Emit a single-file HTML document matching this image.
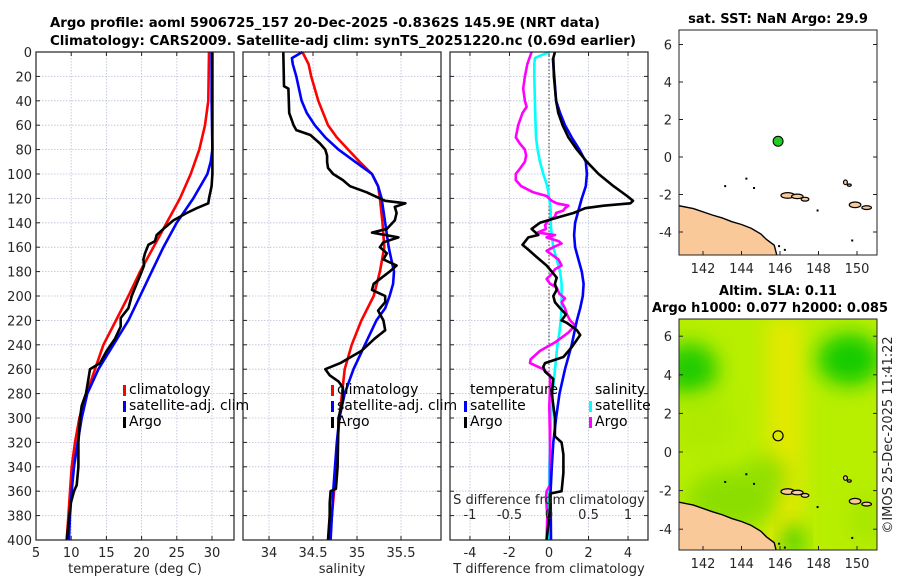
<!DOCTYPE html>
<html><head><meta charset="utf-8"><style>
body{margin:0;background:#fff;}
svg{display:block;font-family:"DejaVu Sans","Liberation Sans",sans-serif;}
.tk{font-size:13px;fill:#262626;}
.ttl{font-size:13px;font-weight:bold;fill:#000;}
.lg{font-size:14px;fill:#000;}
</style></head><body>
<svg id="c" width="900" height="580" viewBox="0 0 900 580">
<defs>
<filter id="bl" x="-50%" y="-50%" width="200%" height="200%"><feGaussianBlur stdDeviation="10"/></filter>
<clipPath id="m2c"><rect x="679" y="319" width="198" height="231"/></clipPath>
<clipPath id="m1c"><rect x="679" y="30" width="198" height="225"/></clipPath>
</defs>
<text class="ttl" x="50" y="27" textLength="550" lengthAdjust="spacingAndGlyphs">Argo profile: aoml 5906725_157 20-Dec-2025 -0.8362S 145.9E (NRT data)</text>
<text class="ttl" x="50" y="45" textLength="586" lengthAdjust="spacingAndGlyphs">Climatology: CARS2009. Satellite-adj clim: synTS_20251220.nc (0.69d earlier)</text>
<g id="plots"></g>
</svg>
<script>
const tClimDepth=[0,40,60,80,100,120,140,160,180,200,220,240,260,280,300,320,340,360,380,400];
const tClimVal=[29.58,29.48,29.0,28.2,26.97,25.46,23.56,21.67,19.78,18.12,16.37,14.57,13.38,12.2,11.16,10.54,10.07,9.83,9.6,9.36];
const tSatDepth=[0,40,80,90,100,120,140,160,180,200,220,240,260,280,300,320,340,360,380,400];
const tSatVal=[29.95,29.95,30.05,29.81,29.34,27.35,24.98,23.09,21.43,19.78,18.12,15.99,13.86,12.29,11.49,10.92,10.4,10.07,9.83,9.69];
const tArgoDepth=[0,100,110,120,124,128,132,138,145,150,155,158,165,170,175,180,190,200,210,218,225,235,245,255,260,268,280,290,300,320,340,355,360,370,400];
const tArgoVal=[30.05,30.05,29.95,29.58,29.48,27.82,26.4,24.51,23.09,22.14,21.9,20.96,20.48,20.25,20.34,20.01,19.3,18.59,18.12,17.03,17.03,16.22,15.04,14.09,12.67,12.44,12.1,11.49,11.25,11.02,11.02,10.78,10.4,9.93,9.36];
const sClimDepth=[0,10,20,40,60,70,80,90,100,110,120,140,160,180,200,220,240,260,280,300,320,340,360,400];
const sClimVal=[34.38,34.45,34.48,34.56,34.67,34.77,34.9,35.03,35.17,35.24,35.26,35.29,35.31,35.26,35.19,35.05,34.94,34.86,34.83,34.8,34.78,34.76,34.74,34.69];
const sSatDepth=[0,5,10,20,40,50,60,70,80,90,100,110,120,140,160,170,180,190,200,210,220,240,260,280,300,320,340,360,400];
const sSatVal=[34.38,34.26,34.27,34.31,34.37,34.43,34.52,34.64,34.79,34.98,35.17,35.24,35.28,35.32,35.36,35.39,35.42,35.41,35.37,35.32,35.22,35.09,34.96,34.86,34.8,34.77,34.75,34.73,34.7];
const sArgoDepth=[0,28,30,50,60,64,68,75,80,85,90,95,100,105,110,115,120,122,124,127,132,138,145,148,152,156,160,165,170,175,180,190,195,200,205,212,220,228,235,245,255,260,265,270,275,285,300,340,358,360,370,380,400];
const sArgoVal=[34.163,34.17,34.22,34.23,34.28,34.31,34.47,34.58,34.64,34.66,34.66,34.67,34.73,34.84,34.92,35.11,35.26,35.32,35.55,35.43,35.45,35.43,35.34,35.17,35.47,35.3,35.26,35.34,35.3,35.45,35.37,35.19,35.17,35.32,35.32,35.24,35.3,35.32,35.2,35.05,34.81,34.64,34.69,34.79,34.84,34.84,34.79,34.78,34.76,34.7,34.69,34.69,34.67];
const dtSatDepth=[5,20,40,50,60,70,80,90,100,110,120,130,140,150,160,170,180,190,200,210,220,240,260,280,300,320,340,360,400];
const dtSatVal=[0.19,0.27,0.36,0.56,0.81,1.15,1.54,1.86,1.92,1.86,1.66,1.49,1.32,1.27,1.32,1.49,1.66,1.75,1.71,1.58,1.41,1.15,0.81,0.53,0.36,0.22,0.14,0.08,0.1];
const dtArgoDepth=[0,5,20,40,50,60,70,80,90,100,110,118,122,124,126,128,132,135,140,145,150,152,158,162,168,175,180,185,190,195,200,205,210,215,218,220,222,228,232,238,242,250,255,258,262,268,280,300,315,320,330,345,360,362,375,400];
const dtArgoVal=[0.3,0.22,0.25,0.36,0.47,0.69,0.98,1.41,1.92,2.51,3.27,3.95,4.25,4.12,2.76,1.83,1.24,0.56,-0.46,-0.88,-0.54,-1.05,-1.34,-1.05,-0.63,-0.12,0.14,0.39,0.3,0.39,0.22,0.3,0.56,0.86,0.73,0.64,0.9,1.41,1.58,1.32,1.15,0.73,-0.2,-0.29,-0.2,0.22,0.14,0.3,0.3,0.64,0.73,0.73,0.64,0.05,0.05,-0.12];
const dsSatDepth=[0,3,5,10,20,40,60,70,80,90,100,110,120,130,140,150,160,170,180,190,200,210,220,230,240,260,280,300,320,340,360,400];
const dsSatVal=[0.013,-0.114,-0.178,-0.186,-0.186,-0.178,-0.17,-0.165,-0.144,-0.114,-0.072,-0.021,0.004,0.021,0.021,0.034,0.055,0.097,0.14,0.16,0.16,0.16,0.148,0.131,0.106,0.076,0.047,0.025,0.013,0.004,0,0];
const dsArgoDepth=[0,10,20,30,40,45,50,60,70,75,80,85,90,95,100,105,110,115,118,122,124,126,128,130,132,135,138,142,145,148,150,152,155,157,160,163,167,170,175,178,182,186,190,193,198,202,205,210,215,220,224,230,238,245,252,255,260,265,275,290,320,340,355,360,365,380,400];
const dsArgoVal=[-0.22,-0.275,-0.305,-0.326,-0.305,-0.284,-0.335,-0.39,-0.42,-0.37,-0.305,-0.29,-0.305,-0.36,-0.42,-0.42,-0.35,-0.2,-0.03,0.034,0.097,0.246,0.203,0.18,0.089,0.076,-0.008,-0.05,-0.038,-0.144,0.076,-0.03,0.119,0.16,0.055,-0.03,0.055,0.119,0.16,0.076,0.034,-0.03,0.013,0.097,0.13,0.203,0.16,0.203,0.225,0.267,0.33,0.246,0.076,-0.114,-0.233,-0.24,-0.072,0.013,0.013,0.004,0.013,0.013,0.013,-0.03,-0.038,-0.021,-0.03];
const depthTicks=[0,20,40,60,80,100,120,140,160,180,200,220,240,260,280,300,320,340,360,380,400];
const tTicks=[5,10,15,20,25,30];
const sTicks=[34,34.5,35,35.5];
const dtTicks=[-4,-2,0,2,4];
const dsTickLabels=['-1','-0.5','0','0.5','1'];
const dsTicks=[-1,-0.5,0,0.5,1];
const lonTicks=[142,144,146,148,150];
const lat1Ticks=[6,4,2,0,-2,-4];
const argoLon=[145.9], argoLat=[0.84];

const NS='http://www.w3.org/2000/svg';
const root=document.getElementById('plots');
function mk(tag,attrs,parent){const e=document.createElementNS(NS,tag);for(const k in attrs)e.setAttribute(k,attrs[k]);(parent||root).appendChild(e);return e;}
const Y0=52,Y1=540;
const yD=d=>Y0+d/400*(Y1-Y0);
function panel(name,x0,x1,vmin,vmax,ticks,labels,xlabel,showY){
  const g=mk('g',{});
  
  
  const xs=v=>x0+(v-vmin)/(vmax-vmin)*(x1-x0);
  depthTicks.forEach(d=>{if(d>0&&d<400){mk('line',{x1:x0,x2:x1,y1:yD(d),y2:yD(d),stroke:'#b8bfd8','stroke-width':0.8,'stroke-dasharray':'1.5,1.5'},g);}});
  ticks.forEach(v=>{mk('line',{x1:xs(v),x2:xs(v),y1:Y0,y2:Y1,stroke:'#b8bfd8','stroke-width':0.8,'stroke-dasharray':'1.5,1.5'},g);});
  depthTicks.forEach(d=>{mk('line',{x1:x0,x2:x0+4,y1:yD(d),y2:yD(d),stroke:'#222'},g);mk('line',{x1:x1-4,x2:x1,y1:yD(d),y2:yD(d),stroke:'#222'},g);
    if(showY){const t=mk('text',{x:x0-4,y:yD(d)+5,'text-anchor':'end',class:'tk'},g);t.textContent=d;}});
  ticks.forEach((v,i)=>{mk('line',{x1:xs(v),x2:xs(v),y1:Y1,y2:Y1-4,stroke:'#222'},g);mk('line',{x1:xs(v),x2:xs(v),y1:Y0,y2:Y0+4,stroke:'#222'},g);
    const t=mk('text',{x:xs(v),y:Y1+17,'text-anchor':'middle',class:'tk'},g);t.textContent=labels[i];});
  const xl=mk('text',{x:(x0+x1)/2,y:Y1+33,'text-anchor':'middle',class:'tk'},g);xl.textContent=xlabel;
  
  
  return {g,xs};
}
function series(p,depths,vals,color,name,scale){
  const pts=depths.map((d,i)=>p.xs(vals[i]*(scale||1)).toFixed(1)+','+yD(d).toFixed(1)).join(' ');
  const e=mk('polyline',{points:pts,fill:'none',stroke:color,'stroke-width':2.6,'stroke-linejoin':'round'},p.g);
  
  
}
function frame(p,x0,x1){mk('rect',{x:x0,y:Y0,width:x1-x0,height:Y1-Y0,fill:'none',stroke:'#222','stroke-width':1.2},p.g);}
function legend(g,x,y,items){items.forEach((it,i)=>{mk('rect',{x:x-6,y:y+i*16-9,width:3,height:11,fill:it[1]},g);
  const t=mk('text',{x:x,y:y+i*16,class:'lg'},g);t.textContent=it[0];});}

const p1=panel('temperature-panel',36,234,5,5+198/7.04,tTicks,tTicks.map(String),'temperature (deg C)',true);
series(p1,tClimDepth,tClimVal,'#ff0000','temp-climatology-line');
series(p1,tSatDepth,tSatVal,'#0000ff','temp-satellite-line');
series(p1,tArgoDepth,tArgoVal,'#000','temp-argo-line');
legend(p1.g,129,394,[['climatology','#f00'],['satellite-adj. clim','#00f'],['Argo','#000']]);
frame(p1,36,234);
const p2=panel('salinity-panel',243,441,34-26/88,34+172/88,sTicks,sTicks.map(String),'salinity',false);
series(p2,sClimDepth,sClimVal,'#ff0000','sal-climatology-line');
series(p2,sSatDepth,sSatVal,'#0000ff','sal-satellite-line');
series(p2,sArgoDepth,sArgoVal,'#000','sal-argo-line');
legend(p2.g,337,394,[['climatology','#f00'],['satellite-adj. clim','#00f'],['Argo','#000']]);
frame(p2,243,441);
const p3=panel('difference-panel',450,648,-5.01,5.01,dtTicks,dtTicks.map(String),'T difference from climatology',false);
mk('line',{x1:p3.xs(0),x2:p3.xs(0),y1:Y0,y2:Y1,stroke:'#333','stroke-width':1,'stroke-dasharray':'1.5,2'},p3.g);
series(p3,dsSatDepth,dsSatVal,'#00ffff','sdiff-satellite-line',4);
series(p3,dsArgoDepth,dsArgoVal,'#ff00ff','sdiff-argo-line',4);
series(p3,dtSatDepth,dtSatVal,'#0000ff','tdiff-satellite-line');
series(p3,dtArgoDepth,dtArgoVal,'#000','tdiff-argo-line');
const st=mk('text',{x:549,y:504,'text-anchor':'middle',class:'tk'},p3.g);st.textContent='S difference from climatology';


dsTicks.forEach((v,i)=>{const t=mk('text',{x:p3.xs(v*4),y:519,'text-anchor':'middle',class:'tk'},p3.g);t.textContent=dsTickLabels[i];
  
  });
const lt=mk('text',{x:470,y:394,class:'lg'},p3.g);lt.textContent='temperature';
const ls=mk('text',{x:595,y:394,class:'lg'},p3.g);ls.textContent='salinity';
legend(p3.g,470,410,[['satellite','#00f'],['Argo','#000']]);
legend(p3.g,595,410,[['satellite','#0ff'],['Argo','#f0f']]);
frame(p3,450,648);

function makeMap(name,top,bottom,latAt0,pxPerLat,clip,bgFn){
  const g=mk('g',{});
  
  
  const X=lon=>703+(lon-142)*19.25, Y=lat=>latAt0-lat*pxPerLat;
  const inner=mk('g',{'clip-path':'url(#'+clip+')'},g);
  bgFn(inner,X,Y);
  const coast=[[140.5,-2.55],[141.5,-2.75],[142.5,-3.1],[143,-3.25],[143.5,-3.45],[144,-3.6],[144.5,-3.8],[145,-4.1],[145.3,-4.4],[145.7,-4.7],[145.85,-5.3],[140.5,-5.3]];
  mk('polygon',{points:coast.map(p=>X(p[0])+','+Y(p[1])).join(' '),fill:'#f9c99a',stroke:'#000','stroke-width':1.4},inner);
  [[146.4,-2.05,0.35,0.15],[146.9,-2.1,0.3,0.12],[147.3,-2.25,0.2,0.1],[149.9,-2.55,0.3,0.15],[150.5,-2.7,0.25,0.1],[149.4,-1.35,0.1,0.12],[149.6,-1.5,0.1,0.06]].forEach(s=>mk('ellipse',{cx:X(s[0]),cy:Y(s[1]),rx:s[2]*19.25,ry:s[3]*19,fill:'#f9c99a',stroke:'#000','stroke-width':1.2},inner));
  [[144.2,-1.1],[143.1,-1.5],[144.6,-1.6],[147.9,-2.8],[145.9,-4.7],[146.2,-4.9],[149.7,-4.4]].forEach(s=>mk('rect',{x:X(s[0]),y:Y(s[1]),width:2,height:2,fill:'#000'},inner));
  mk('rect',{x:679,y:top,width:198,height:bottom-top,fill:'none',stroke:'#222','stroke-width':1},g);
  lonTicks.forEach(v=>{mk('line',{x1:X(v),x2:X(v),y1:bottom,y2:bottom-4,stroke:'#222'},g);
    const t=mk('text',{x:X(v),y:bottom+18,'text-anchor':'middle',class:'tk'},g);t.textContent=v;
    
    });
  lat1Ticks.forEach(v=>{mk('line',{x1:679,x2:683,y1:Y(v),y2:Y(v),stroke:'#222'},g);mk('line',{x1:873,x2:877,y1:Y(v),y2:Y(v),stroke:'#222'},g);
    const t=mk('text',{x:672,y:Y(v)+5,'text-anchor':'end',class:'tk'},g);t.textContent=v;
    
    });
  return {g,X,Y};
}
const m1=makeMap('sst-map',30,255,157,18.75,'m1c',(g,X,Y)=>{mk('rect',{x:679,y:30,width:198,height:225,fill:'#fff'},g);});
const d1=mk('circle',{cx:m1.X(argoLon[0]),cy:m1.Y(argoLat[0]),r:5,fill:'#22cc22',stroke:'#000','stroke-width':1},m1.g);


const t1=mk('text',{x:778,y:23,'text-anchor':'middle',class:'ttl'},m1.g);t1.textContent='sat. SST: NaN Argo: 29.9';
const m2=makeMap('sla-map',319,550,452,19.3,'m2c',(g,X,Y)=>{
  mk('rect',{x:679,y:319,width:198,height:231,fill:'#b8ee00'},g);
  mk('rect',{x:X(145.3),y:319,width:36,height:231,fill:'#e8e800',filter:'url(#bl)',opacity:0.9},g);
  mk('ellipse',{cx:X(141.3),cy:Y(4.3),rx:28,ry:26,fill:'#22cc00',filter:'url(#bl)'},g);
  mk('ellipse',{cx:X(149.6),cy:Y(4.8),rx:32,ry:26,fill:'#14cc00',filter:'url(#bl)'},g);
  mk('ellipse',{cx:X(143.5),cy:Y(-2.5),rx:45,ry:30,fill:'#88dd00',filter:'url(#bl)',opacity:0.9},g);
  mk('ellipse',{cx:X(145.3),cy:Y(-1.2),rx:22,ry:20,fill:'#88dd00',filter:'url(#bl)',opacity:0.8},g);
  mk('ellipse',{cx:X(146.7),cy:Y(-4.6),rx:10,ry:16,fill:'#33cc00',filter:'url(#bl)'},g);
  mk('ellipse',{cx:X(142),cy:Y(1.5),rx:30,ry:30,fill:'#aae800',filter:'url(#bl)',opacity:0.7},g);
  mk('ellipse',{cx:X(150.5),cy:Y(-3.5),rx:18,ry:25,fill:'#a0e400',filter:'url(#bl)',opacity:0.7},g);
});
const d2=mk('circle',{cx:m2.X(argoLon[0]),cy:m2.Y(argoLat[0]),r:5,fill:'none',stroke:'#000','stroke-width':1.2},m2.g);


const t2=mk('text',{x:778,y:295,'text-anchor':'middle',class:'ttl'},m2.g);t2.textContent='Altim. SLA: 0.11';
const t3=mk('text',{x:770,y:312,'text-anchor':'middle',class:'ttl',textLength:236,lengthAdjust:'spacingAndGlyphs'},m2.g);t3.textContent='Argo h1000: 0.077 h2000: 0.085';
const cp=mk('text',{x:0,y:0,class:'tk','text-anchor':'middle',transform:'translate(892,435) rotate(-90)'});cp.textContent='©IMOS 25-Dec-2025 11:41:22';


</script>
</body></html>
